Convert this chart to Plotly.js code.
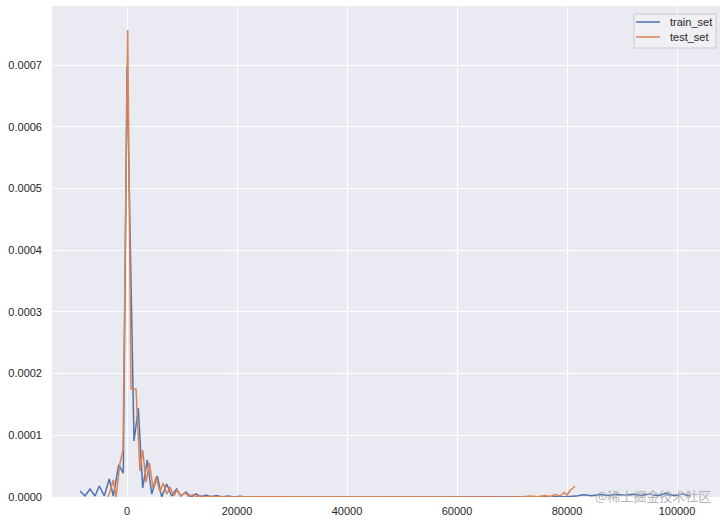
<!DOCTYPE html>
<html>
<head>
<meta charset="utf-8">
<script src="https://cdn.plot.ly/plotly-3.0.1.min.js"></script>
<style>html,body{margin:0;padding:0;background:#fff;}#chart{width:727px;height:523px;}</style>
</head>
<body>
<div id="chart"></div>
<script>
// train_set KDE (x grid, density)
const trainX = [-8545,-7636,-6727,-5818,-5036,-4127,-3218,-2491,-1509,-673,0,1036,1273,2055,2855,3691,4491,5509,6309,7218,8127,9036,9764,10727,11636,12545,13455,14364,15273,16182,17273,18364,19455,20545,21636,23000,24500,26000,28000,30000,35000,40000,45000,50000,55000,60000,65000,70000,75000,80000,82000,83000,84500,86000,87500,89000,90500,92000,93500,95000,96500,98000,99500,101000,102400];
const trainY = [0.0000097,0.0000016,0.000013,0.0000016,0.0000178,0.0000016,0.0000292,0.0000016,0.0000519,0.0000389,0.000697,0.000180,0.0000908,0.000144,0.0000146,0.00006,0.0000049,0.000034,0,0.000021,0.0000016,0.000013,0.0000016,0.0000081,0,0.0000049,0,0.0000032,0,0.0000024,0,0.0000016,0,0.0000011,0,0.0000006,0,0.0000004,0.0000002,0.0000003,0.0000001,0.0000002,0.0000001,0.0000001,0.0000001,0.0000001,0.0000001,0.0000001,0.0000002,0.0000003,0.000002,0.0000035,0.000002,0.000004,0.0000025,0.000004,0.000003,0.0000045,0.0000025,0.000005,0.000002,0.0000055,0.000002,0.000005,0.000002];
// test_set KDE (x grid, density)
const testX = [-3455,-3000,-2491,-2000,-1273,-727,130,727,1636,2364,2855,3455,4091,4727,5273,6000,6545,7273,7818,8545,9091,9818,10545,11273,12000,12727,13455,14364,15273,16182,17273,18364,22000,30000,40000,50000,60000,66000,67818,69636,71455,73273,74727,76000,76909,77818,78727,79455,80000,80545,81455];
const testY = [0,0.0000113,0.0000276,0,0.0000551,0.0000762,0.000757,0.000175,0.000175,0.0000421,0.0000762,0.0000243,0.0000551,0.0000146,0.0000324,0.0000081,0.0000227,0.0000049,0.0000162,0.0000016,0.0000113,0.0000016,0.0000065,0.0000008,0.000004,0,0.0000024,0,0.0000016,0,0.0000008,0,0.0000005,0.0000005,0.0000005,0.0000005,0.0000005,0.0000008,0,0.0000011,0,0.0000016,0.0000003,0.0000024,0.0000008,0.000004,0.0000016,0.0000073,0.0000032,0.0000105,0.0000175];
const seriesNames = ["train_set","test_set"];
const seriesColors = ['#4C72B0','#DD8452'];
const xTicks = [0,20000,40000,60000,80000,100000];
const yTicks = [0,0.0001,0.0002,0.0003,0.0004,0.0005,0.0006,0.0007];

const traces = [
  {x: trainX, y: trainY, name: seriesNames[0], type: 'scatter', mode: 'lines',
   line: {color: seriesColors[0], width: 1.5}},
  {x: testX, y: testY, name: seriesNames[1], type: 'scatter', mode: 'lines',
   line: {color: seriesColors[1], width: 1.5}}
];

// Legend drawn in paper coordinates (plot area: 668 x 491 px)
const W = 668, H = 491;
const px = v => v / W, py = v => 1 - v / H;
const legendShapes = [
  {type: 'rect', xref: 'paper', yref: 'paper', x0: px(582), x1: px(664), y0: py(8), y1: py(42),
   fillcolor: 'rgba(240,240,245,0.85)', line: {color: '#cccccc', width: 1}, layer: 'above'}
];
const legendAnn = [];
seriesNames.forEach((n, i) => {
  const yy = py(16 + i * 15);
  legendShapes.push({type: 'line', xref: 'paper', yref: 'paper', x0: px(584), x1: px(608),
    y0: yy, y1: yy, line: {color: seriesColors[i], width: 1.5}, layer: 'above'});
  legendAnn.push({text: n, xref: 'paper', yref: 'paper', x: px(616), y: yy, xanchor: 'left',
    yanchor: 'middle', showarrow: false, font: {size: 11, color: '#262626'}});
});

const layout = {
  width: 727, height: 523,
  margin: {l: 52, r: 7, t: 6, b: 26},
  paper_bgcolor: '#ffffff',
  plot_bgcolor: '#EAEAF2',
  font: {family: 'Liberation Sans, Arial, sans-serif', size: 11, color: '#262626'},
  showlegend: false,
  xaxis: {range: [-13636, 107818], tickvals: xTicks, ticktext: xTicks.map(String),
    showgrid: true, gridcolor: '#ffffff', gridwidth: 1, zeroline: false,
    showline: false, ticks: '', ticklen: 0, ticklabelstandoff: 6,
    tickfont: {size: 11, color: '#262626'}},
  yaxis: {range: [0, 0.000796], tickvals: yTicks, ticktext: yTicks.map(v => v.toFixed(4)),
    showgrid: true, gridcolor: '#ffffff', gridwidth: 1, zeroline: false,
    showline: false, ticks: '', ticklen: 0, ticklabelstandoff: 9,
    tickfont: {size: 11, color: '#262626'}},
  shapes: legendShapes,
  annotations: legendAnn.concat([{
    text: '@稀土掘金技术社区', xref: 'paper', yref: 'paper', x: 0.99, y: py(489),
    xanchor: 'right', yanchor: 'middle', showarrow: false,
    font: {family: 'Noto Sans CJK SC, sans-serif', size: 13, color: 'rgba(170,170,175,0.9)'}
  }])
};

Plotly.newPlot('chart', traces, layout, {displayModeBar: false, staticPlot: true});
</script>
</body>
</html>
